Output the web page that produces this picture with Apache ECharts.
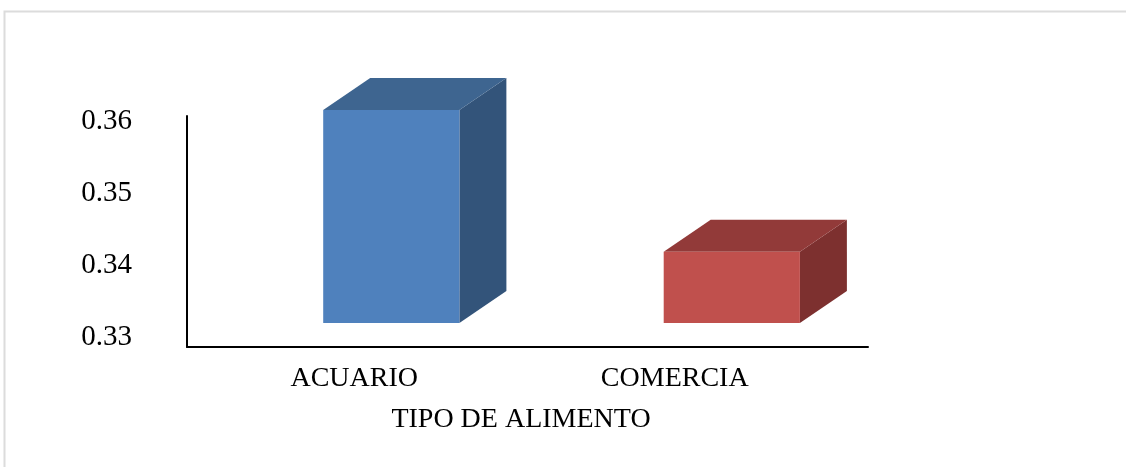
<!DOCTYPE html>
<html>
<head>
<meta charset="utf-8">
<script src="https://cdn.jsdelivr.net/npm/echarts@6/dist/echarts.min.js"></script>
<style>
  html, body { margin: 0; padding: 0; background: #fff; }
  #chart { width: 1126px; height: 467px; }
</style>
</head>
<body>
<div id="chart"></div>
<script>
// Food type vs. measured value
const CATEGORIES = ['ACUARIO', 'COMERCIA'];
const VALUES = [0.3596, 0.3399];
const Y_TICKS = [0.33, 0.34, 0.35, 0.36];
const X_NAME = 'TIPO DE ALIMENTO';

// face colours per bar: front, top, side
const FACE_COLORS = [
  ['#4f81bd', '#3e6590', '#33547a'],
  ['#c0504d', '#923a39', '#7d302f']
];
// right padding that nudges each category label to the left
const LABEL_SHIFT = [6, 46];

const FONT = 'Liberation Serif, Times New Roman, serif';
const BASE = 0.33;          // floor of the value scale
const PX_PER_UNIT = 7200;   // vertical pixels per 1.0 of value on the 216px tick span
const DEPTH_X = 47, DEPTH_Y = -32, LIFT = -14;

const chart = echarts.init(document.getElementById('chart'), null, { renderer: 'canvas' });

chart.setOption({
  animation: false,
  backgroundColor: '#ffffff',
  graphic: [{
    type: 'rect',
    shape: { x: 4.5, y: 11.5, width: 1200, height: 600 },
    style: { fill: 'none', stroke: '#dcdcdc', lineWidth: 2 },
    silent: true
  }],
  grid: { left: 187, right: 258, top: 116, bottom: 120 },
  xAxis: {
    type: 'category',
    data: CATEGORIES,
    name: X_NAME,
    nameLocation: 'middle',
    nameGap: 59,
    nameTextStyle: { fontFamily: FONT, fontSize: 28, color: '#000', padding: [0, 13, 0, 0] },
    axisLine: { lineStyle: { color: '#000', width: 2 } },
    axisTick: { show: false },
    axisLabel: {
      margin: 18,
      fontFamily: FONT, fontSize: 28, color: '#000',
      formatter: (v, i) => '{c' + i + '|' + v + '}',
      rich: Object.fromEntries(LABEL_SHIFT.map((p, i) => ['c' + i, {
        fontFamily: FONT, fontSize: 28, color: '#000', padding: [0, p, 0, 0]
      }]))
    }
  },
  yAxis: {
    type: 'value',
    min: BASE - 10 / PX_PER_UNIT,
    max: Y_TICKS[Y_TICKS.length - 1] + 5 / PX_PER_UNIT,
    axisLine: { show: true, lineStyle: { color: '#000', width: 2 } },
    axisTick: { show: false },
    splitLine: { show: false },
    axisLabel: {
      customValues: Y_TICKS,
      margin: 55,
      fontFamily: FONT, fontSize: 29, color: '#000',
      formatter: v => v.toFixed(2)
    }
  },
  series: [{
    type: 'custom',
    clip: false,
    data: VALUES.map((v, i) => [i, v]),
    renderItem(params, api) {
      const i = api.value(0);
      const base = api.coord([i, BASE]);
      const top = api.coord([i, api.value(1)]);
      const band = api.size([1, 0])[0];
      const w = band * 0.40;
      const x0 = base[0] - band * 0.10;
      const x1 = x0 + w;
      const yb = base[1] + LIFT;
      const yt = top[1] + LIFT;
      const c = FACE_COLORS[i];
      return {
        type: 'group',
        children: [
          {
            type: 'polygon',
            shape: { points: [[x1, yt], [x1 + DEPTH_X, yt + DEPTH_Y], [x1 + DEPTH_X, yb + DEPTH_Y], [x1, yb]] },
            style: { fill: c[2] }
          },
          {
            type: 'polygon',
            shape: { points: [[x0, yt], [x0 + DEPTH_X, yt + DEPTH_Y], [x1 + DEPTH_X, yt + DEPTH_Y], [x1, yt]] },
            style: { fill: c[1] }
          },
          {
            type: 'rect',
            shape: { x: x0, y: yt, width: w, height: yb - yt },
            style: { fill: c[0] }
          }
        ]
      };
    }
  }]
});
</script>
</body>
</html>
